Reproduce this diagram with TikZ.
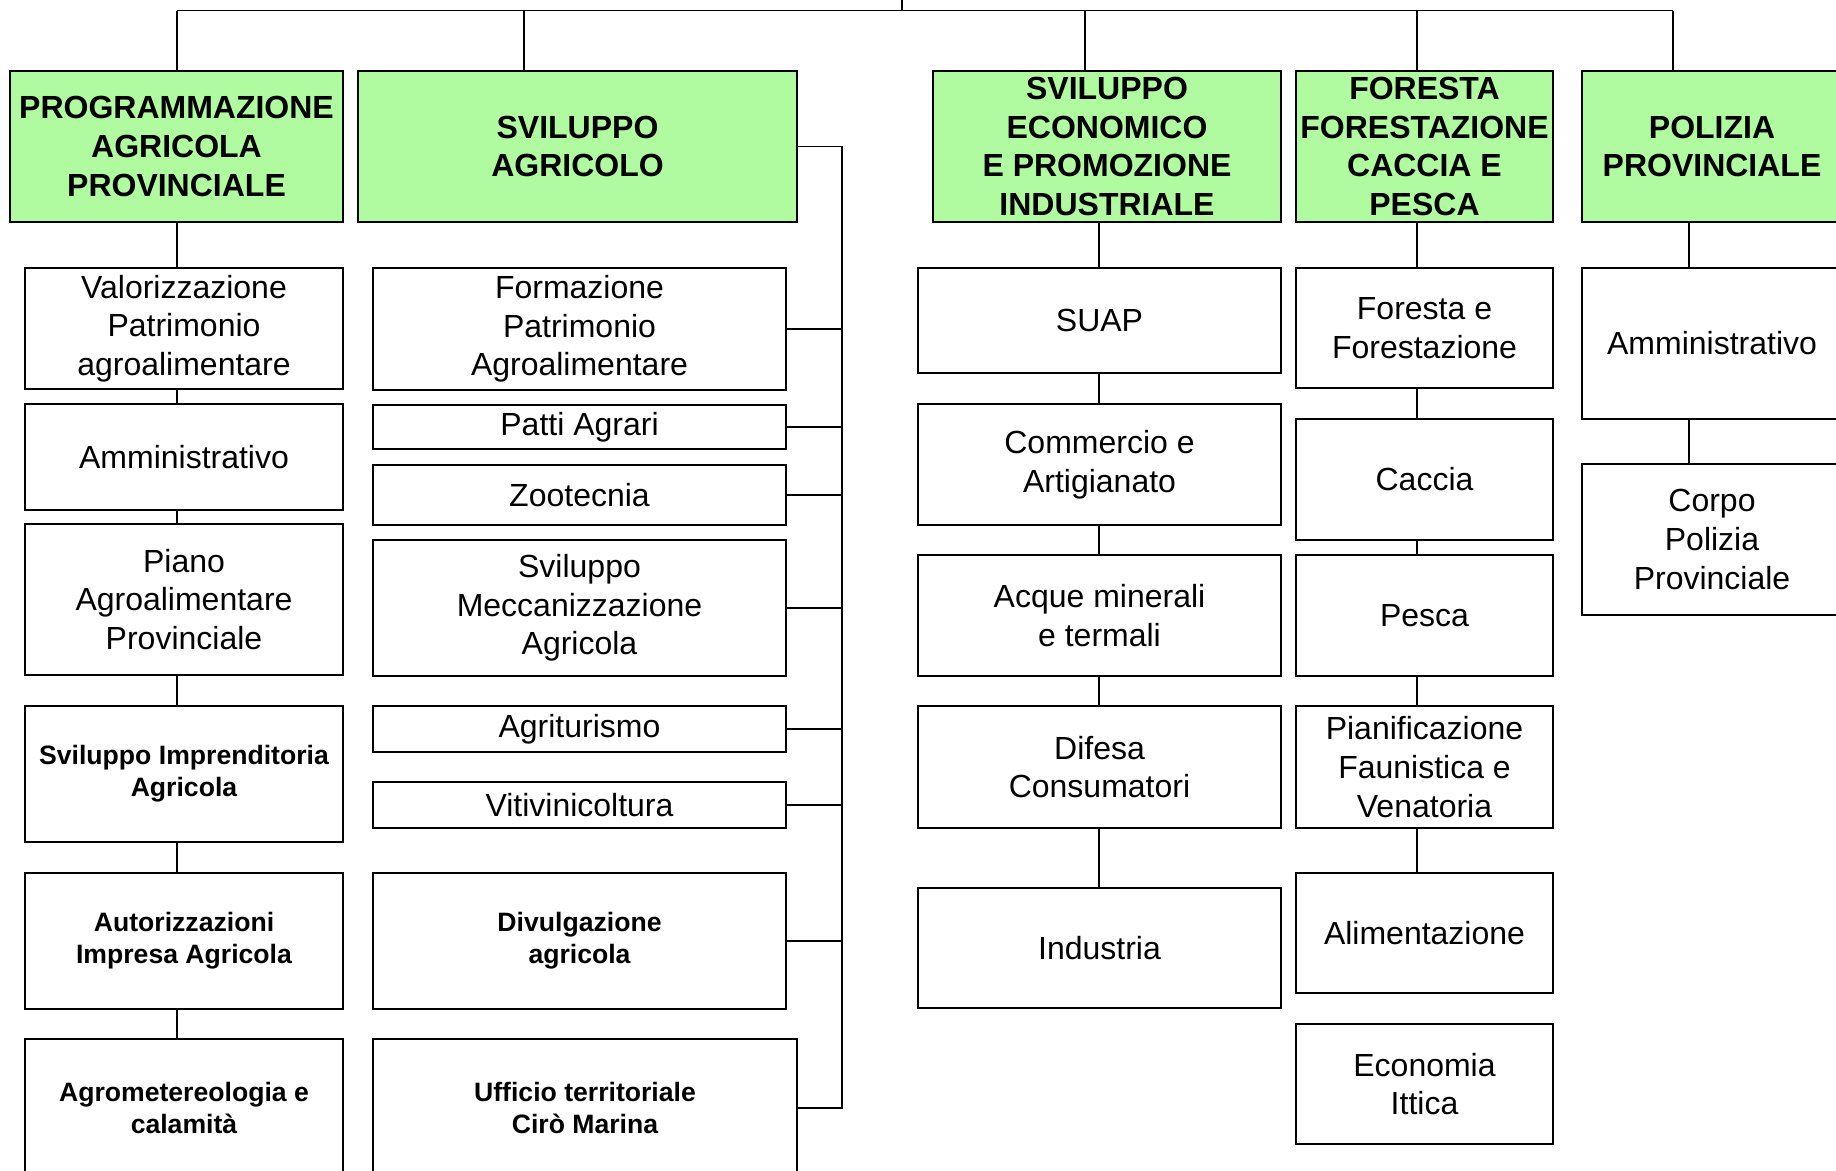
\documentclass[tikz,border=0pt]{standalone}
\usepackage{fontspec}
\setmainfont{Liberation Sans}
\definecolor{headgreen}{RGB}{176,250,160}
\tikzset{
  head/.style={draw, line width=1.1pt, fill=headgreen, inner sep=0pt, align=center,
    font=\fontsize{16}{19.3}\selectfont\bfseries},
  unit/.style={draw, line width=1.1pt, fill=white, inner sep=0pt, align=center,
    font=\fontsize{16}{19.3}\selectfont},
  unitb/.style={unit, font=\fontsize{13.3}{16}\selectfont\bfseries},
  link/.style={line width=0.75pt}
}
\begin{document}
\begin{tikzpicture}[x=0.5pt,y=-0.5pt]
  \useasboundingbox (0,0) rectangle (1836,1171);
  % heads
  \node[head, minimum width=166.5pt, minimum height=75.5pt] (prog) at (176.5,146.5) {PROGRAMMAZIONE\\AGRICOLA\\PROVINCIALE};
  \node[head, minimum width=219.5pt, minimum height=75.5pt] (svag) at (577.5,146.5) {SVILUPPO\\AGRICOLO};
  \node[head, minimum width=174pt, minimum height=75.5pt] (svec) at (1107,146.5) {SVILUPPO\\ECONOMICO\\E PROMOZIONE\\INDUSTRIALE};
  \node[head, minimum width=128.5pt, minimum height=75.5pt] (fore) at (1424.5,146.5) {FORESTA\\FORESTAZIONE\\CACCIA E\\PESCA};
  \node[head, minimum width=130pt, minimum height=75.5pt] (poli) at (1712,146.5) {POLIZIA\\PROVINCIALE};
  % left column
  \node[unit, minimum width=159pt, minimum height=60.5pt] (val) at (184,328.5) {Valorizzazione\\Patrimonio\\agroalimentare};
  \node[unit, minimum width=159pt, minimum height=52.75pt] (amm) at (184,457) {Amministrativo};
  \node[unit, minimum width=159pt, minimum height=75.5pt] (piano) at (184,599.5) {Piano\\Agroalimentare\\Provinciale};
  \node[unitb, minimum width=159pt, minimum height=68pt] (simp) at (184,774) {Sviluppo Imprenditoria\\Agricola};
  \node[unitb, minimum width=159pt, minimum height=68pt] (aut) at (184,941) {Autorizzazioni\\Impresa Agricola};
  \node[unitb, minimum width=159pt, minimum height=69pt] (agro) at (184,1108) {Agrometereologia e\\calamità};
  % middle column
  \node[unit, minimum width=206.5pt, minimum height=61pt] (form) at (579.5,329) {Formazione\\Patrimonio\\Agroalimentare};
  \node[unit, minimum width=206.5pt, minimum height=22pt] (patti) at (579.5,427) {Patti Agrari};
  \node[unit, minimum width=206.5pt, minimum height=30pt] (zoo) at (579.5,495) {Zootecnia};
  \node[unit, minimum width=206.5pt, minimum height=68pt] (mecc) at (579.5,608) {Sviluppo\\Meccanizzazione\\Agricola};
  \node[unit, minimum width=206.5pt, minimum height=23pt] (agri) at (579.5,729) {Agriturismo};
  \node[unit, minimum width=206.5pt, minimum height=23pt] (viti) at (579.5,805) {Vitivinicoltura};
  \node[unitb, minimum width=206.5pt, minimum height=68pt] (divu) at (579.5,941) {Divulgazione\\agricola};
  \node[unitb, minimum width=212pt, minimum height=69pt] (uff) at (585,1108) {Ufficio territoriale\\Cirò Marina};
  % economic column
  \node[unit, minimum width=181.5pt, minimum height=52.5pt] (suap) at (1099.5,320.5) {SUAP};
  \node[unit, minimum width=181.5pt, minimum height=60.5pt] (comm) at (1099.5,464.5) {Commercio e\\Artigianato};
  \node[unit, minimum width=181.5pt, minimum height=60.5pt] (acq) at (1099.5,615.5) {Acque minerali\\e termali};
  \node[unit, minimum width=181.5pt, minimum height=61pt] (dif) at (1099.5,767) {Difesa\\Consumatori};
  \node[unit, minimum width=181.5pt, minimum height=60.3pt] (ind) at (1099.5,948) {Industria};
  % forest column
  \node[unit, minimum width=128.5pt, minimum height=60pt] (fef) at (1424.5,328) {Foresta e\\Forestazione};
  \node[unit, minimum width=128.5pt, minimum height=60.5pt] (cac) at (1424.5,479.5) {Caccia};
  \node[unit, minimum width=128.5pt, minimum height=60.5pt] (pes) at (1424.5,615.5) {Pesca};
  \node[unit, minimum width=128.5pt, minimum height=61pt] (pfv) at (1424.5,767) {Pianificazione\\Faunistica e\\Venatoria};
  \node[unit, minimum width=128.5pt, minimum height=60.25pt] (alim) at (1424.5,933) {Alimentazione};
  \node[unit, minimum width=128.5pt, minimum height=60pt] (eco) at (1424.5,1084) {Economia\\Ittica};
  % police column
  \node[unit, minimum width=130pt, minimum height=75.5pt] (pamm) at (1712,343.5) {Amministrativo};
  \node[unit, minimum width=130pt, minimum height=75.5pt] (corpo) at (1712,539.5) {Corpo\\Polizia\\Provinciale};
  % top bus
  \coordinate (root) at (902,-10);
  \coordinate (top) at (902,10.7);
  \coordinate (cl) at (176.8,0);
  \coordinate (cs) at (524,0);
  \coordinate (ce) at (1099,0);
  \coordinate (ctop) at (1085,0);
  \coordinate (cf) at (1417,0);
  \coordinate (cq) at (1673,0);
  \coordinate (cp) at (1689,0);
  \coordinate (cm) at (842,0);
  \draw[link] (root) -- (top);
  \draw[link] (top -| cl) -- (top -| cq);
  \foreach \n/\c in {prog/cl, svag/cs, svec/ctop, fore/cf, poli/cq}
    \draw[link] (top -| \c) -- (\n.north -| \c);
  % chains
  \foreach \a/\b in {prog/val, val/amm, amm/piano, piano/simp, simp/aut, aut/agro}
    \draw[link] (\a.south -| cl) -- (\b.north -| cl);
  \foreach \a/\b in {svec/suap, suap/comm, comm/acq, acq/dif, dif/ind}
    \draw[link] (\a.south -| ce) -- (\b.north -| ce);
  \foreach \a/\b in {fore/fef, fef/cac, cac/pes, pes/pfv, pfv/alim}
    \draw[link] (\a.south -| cf) -- (\b.north -| cf);
  \foreach \a/\b in {poli/pamm, pamm/corpo}
    \draw[link] (\a.south -| cp) -- (\b.north -| cp);
  % agricultural bus
  \draw[link] (svag.east) -| (uff.east -| cm) -- (uff.east);
  \foreach \b in {form, patti, zoo, mecc, agri, viti, divu}
    \draw[link] (\b.east) -- (\b.east -| cm);
\end{tikzpicture}
\end{document}
